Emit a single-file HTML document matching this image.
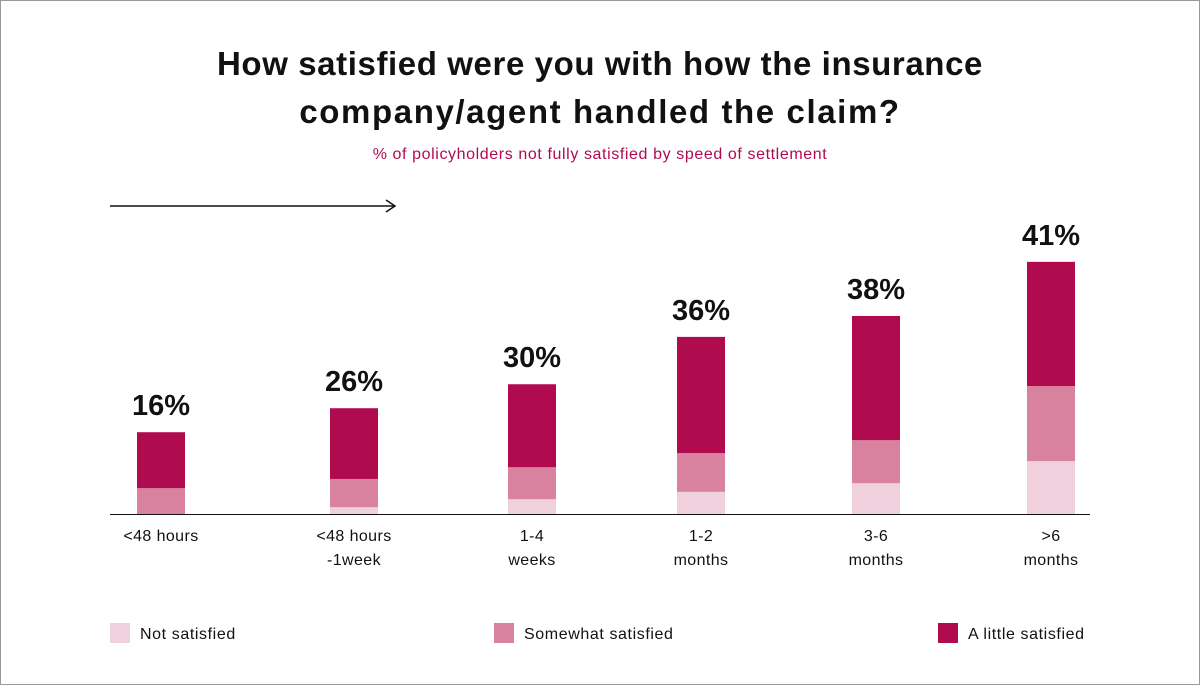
<!DOCTYPE html>
<html><head><meta charset="utf-8">
<style>
html,body{margin:0;padding:0;background:#fff;}
body{width:1200px;height:685px;overflow:hidden;font-family:"Liberation Sans",sans-serif;}
</style></head>
<body>
<svg id="chart" width="1200" height="685" xmlns="http://www.w3.org/2000/svg">
<rect x="0.5" y="0.5" width="1199" height="684" fill="#fff" stroke="#999"/>
<text x="600" y="75" text-anchor="middle" font-size="33" font-weight="bold" letter-spacing="0.6" fill="#111">How satisfied were you with how the insurance</text>
<text x="600" y="123" text-anchor="middle" font-size="33" font-weight="bold" letter-spacing="1.6" fill="#111">company/agent handled the claim?</text>
<text x="600" y="159" text-anchor="middle" font-size="16" letter-spacing="0.6" fill="#B00B4F">% of policyholders not fully satisfied by speed of settlement</text>
<line x1="110" y1="206" x2="394" y2="206" stroke="#111" stroke-width="1.5"/>
<path d="M386 200 L395 206 L386 212" fill="none" stroke="#111" stroke-width="1.5"/>
<g id="bars"></g>
<line x1="110" y1="514.5" x2="1090" y2="514.5" stroke="#111" stroke-width="1"/>
<g font-size="16" letter-spacing="0.6" fill="#111">
<rect x="110" y="623" width="20" height="20" fill="#F0D0DC"/>
<text x="140" y="639">Not satisfied</text>
<rect x="494" y="623" width="20" height="20" fill="#D9829F"/>
<text x="524" y="639">Somewhat satisfied</text>
<rect x="938" y="623" width="20" height="20" fill="#B00B4F"/>
<text x="968" y="639">A little satisfied</text>
</g>
</svg>
<script>
const categories = [["<48 hours"],["<48 hours","-1week"],["1-4","weeks"],["1-2","months"],["3-6","months"],[">6","months"]];
const totalLabels = ["16%","26%","30%","36%","38%","41%"];
const notSatisfied = [0, 1.1, 2.4, 3.6, 5.0, 8.6];
const somewhatSatisfied = [4.2, 4.6, 5.2, 6.3, 7.0, 12.2];
const littleSatisfied = [9.1, 11.5, 13.5, 18.9, 20.2, 20.2];

const NS = "http://www.w3.org/2000/svg";
const g = document.getElementById("bars");
const baseY = 514, pxPerUnit = 6.15, barW = 48;
const centers = [161, 354, 532, 701, 876, 1051];
function xCenter(i){ return centers[i]; }
function yScale(v){ return baseY - v * pxPerUnit; }
function mk(tag, attrs){ const e=document.createElementNS(NS,tag); for(const k in attrs) e.setAttribute(k,attrs[k]); return e; }
const series = [[notSatisfied,"#F0D0DC","not-satisfied"],[somewhatSatisfied,"#D9829F","somewhat-satisfied"],[littleSatisfied,"#B00B4F","a-little-satisfied"]];
categories.forEach((cat,i)=>{
  let acc = 0;
  series.forEach(([arr,color,name])=>{
    const v = arr[i];
    const y1 = yScale(acc + v), y0 = yScale(acc);
    const r = mk("rect",{x:xCenter(i)-barW/2,y:y1,width:barW,height:Math.max(0,y0-y1),fill:color});
    
    
    g.appendChild(r);
    acc += v;
  });
  const t = mk("text",{x:xCenter(i),y:yScale(acc)-17,"text-anchor":"middle","font-size":"29","font-weight":"bold",fill:"#111"});
  t.textContent = totalLabels[i];
  
  
  g.appendChild(t);
  cat.forEach((line,j)=>{
    const ct = mk("text",{x:xCenter(i),y:541+j*24,"text-anchor":"middle","font-size":"16","letter-spacing":"0.4",fill:"#111"});
    ct.textContent = line;
    
    
    g.appendChild(ct);
  });
});
</script>
</body></html>
